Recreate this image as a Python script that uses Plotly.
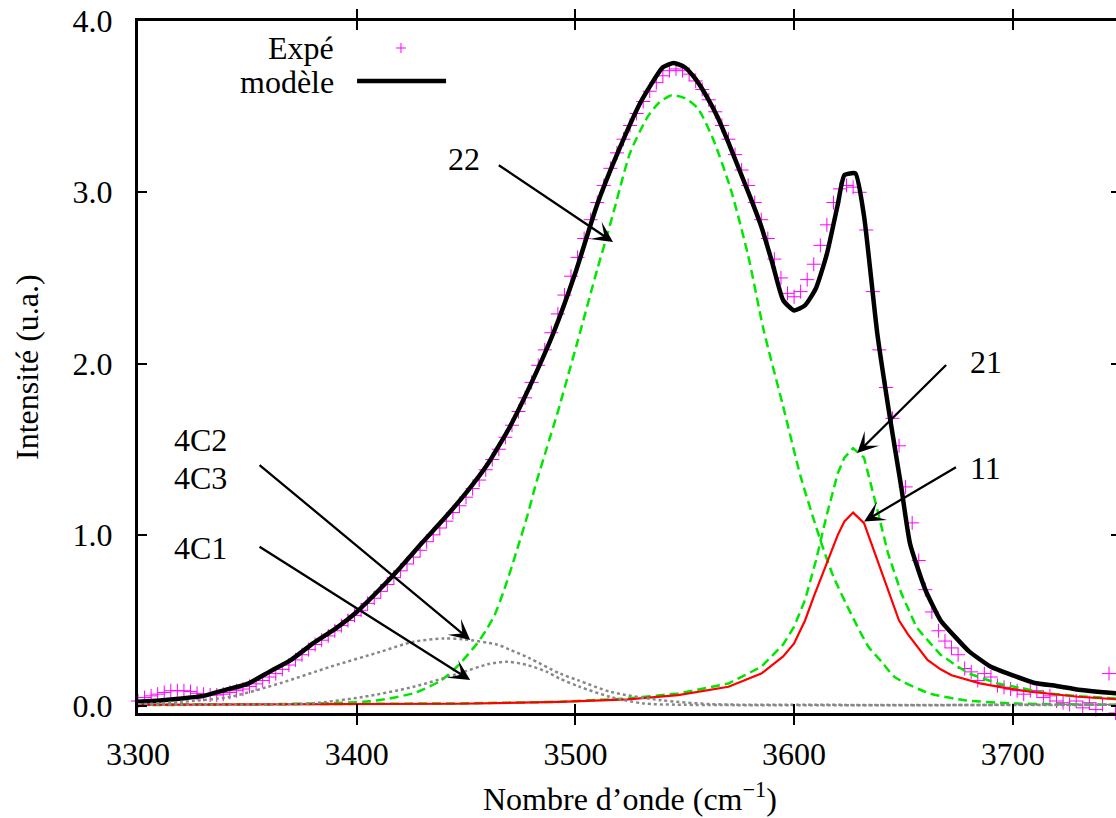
import plotly.graph_objects as go

# ---------------- data ----------------
exp_x = list(range(3300, 3751, 3))
exp_y = [0.03, 0.05, 0.06, 0.07, 0.08, 0.09, 0.09, 0.09, 0.085, 0.075,
         0.07, 0.065, 0.065, 0.07, 0.08, 0.09, 0.10, 0.115, 0.13, 0.15,
         0.17, 0.19, 0.215, 0.24, 0.27, 0.30, 0.33, 0.36, 0.385, 0.41,
         0.44, 0.47, 0.50, 0.53, 0.56, 0.60, 0.63, 0.67, 0.71, 0.75,
         0.79, 0.83, 0.87, 0.91, 0.96, 1.00, 1.04, 1.08, 1.13, 1.17,
         1.22, 1.27, 1.32, 1.38, 1.44, 1.50, 1.57, 1.64, 1.72, 1.80,
         1.89, 1.99, 2.08, 2.18, 2.29, 2.40, 2.51, 2.62, 2.73, 2.84,
         2.94, 3.04, 3.14, 3.23, 3.31, 3.39, 3.46, 3.53, 3.59, 3.64,
         3.68, 3.71, 3.72, 3.71, 3.69, 3.65, 3.60, 3.54, 3.47, 3.39,
         3.31, 3.22, 3.13, 3.04, 2.94, 2.84, 2.73, 2.61, 2.50, 2.41,
         2.39, 2.42, 2.49, 2.58, 2.69, 2.81, 2.94, 3.02, 3.04, 3.03,
         3.00, 2.78, 2.42, 2.08, 1.86, 1.68, 1.52, 1.28, 1.07, 0.85,
         0.68, 0.55, 0.44, 0.38, 0.34, 0.30, 0.22, 0.20, 0.15, 0.19,
         0.17, 0.12, 0.11, 0.10, 0.09, 0.07, 0.09, 0.09, 0.05, 0.06,
         0.03, 0.02, 0.01, 0.03, -0.01, 0.02, -0.02, 0.01, 0.19, -0.04,
         0.09]

model_x = [3300, 3310, 3320, 3330, 3340, 3350, 3360, 3370, 3380, 3390,
           3400, 3410, 3420, 3430, 3440, 3450, 3460, 3470, 3480, 3490,
           3500, 3510, 3520, 3530, 3540,
           3545, 3550, 3555, 3560, 3565, 3570, 3575, 3580, 3585, 3590,
           3595, 3600, 3605, 3610, 3615, 3620,
           3623, 3628, 3632, 3638, 3644, 3649, 3653, 3660, 3667, 3675, 3680,
           3690, 3700, 3710, 3720, 3730, 3740, 3750]
model_y = [0.025, 0.033, 0.045, 0.06, 0.095, 0.13, 0.20, 0.27, 0.366, 0.45,
           0.55, 0.675, 0.81, 0.955, 1.095, 1.245, 1.415, 1.63, 1.89, 2.18,
           2.53, 2.93, 3.25, 3.53, 3.73,
           3.755, 3.73, 3.66, 3.56, 3.44, 3.29, 3.13, 2.97, 2.80, 2.59,
           2.37, 2.31, 2.34, 2.44, 2.64, 2.93,
           3.10, 3.11, 2.86, 2.18, 1.67, 1.28, 0.95, 0.68, 0.50, 0.386, 0.32,
           0.23, 0.18, 0.135, 0.118, 0.096, 0.083, 0.072]

g22_x = [3300, 3350, 3380, 3403, 3415, 3426, 3430, 3438, 3442, 3447,
         3455, 3459, 3463, 3468, 3473, 3478, 3482, 3487, 3492, 3501,
         3510, 3515, 3518, 3525, 3533, 3538, 3544, 3550, 3556, 3563,
         3571, 3579, 3586, 3595, 3603, 3612, 3618, 3626, 3634, 3640,
         3646, 3662, 3678, 3700, 3750]
g22_y = [0.006, 0.01, 0.015, 0.025, 0.045, 0.075, 0.095, 0.145, 0.185, 0.245,
         0.365, 0.44, 0.53, 0.70, 0.90, 1.11, 1.30, 1.51, 1.72, 2.13,
         2.55, 2.77, 2.91, 3.23, 3.44, 3.52, 3.567, 3.55, 3.49, 3.31,
         3.02, 2.63, 2.20, 1.75, 1.34, 0.97, 0.756, 0.54, 0.347, 0.26,
         0.17, 0.074, 0.035, 0.016, 0.008]

g21_x = [3300, 3350, 3400, 3447, 3493, 3524, 3547, 3570, 3585, 3595,
         3600, 3605, 3610, 3615, 3620, 3623, 3627, 3632, 3638, 3643,
         3649, 3656, 3660, 3667, 3675, 3680, 3693, 3705, 3716, 3730, 3750]
g21_y = [0.008, 0.01, 0.013, 0.016, 0.025, 0.045, 0.074, 0.132, 0.23, 0.36,
         0.464, 0.62, 0.85, 1.12, 1.36, 1.45, 1.506, 1.45, 1.15, 0.89,
         0.66, 0.46, 0.40, 0.30, 0.23, 0.19, 0.133, 0.10, 0.074, 0.058, 0.043]

r11_x = [3300, 3350, 3400, 3447, 3493, 3524, 3547, 3570, 3585, 3595,
         3600, 3605, 3609, 3615, 3620, 3623, 3627, 3632, 3638, 3643,
         3648, 3652, 3655, 3661, 3667, 3672, 3685, 3697, 3708, 3730, 3750]
r11_y = [0.008, 0.01, 0.012, 0.014, 0.025, 0.039, 0.064, 0.113, 0.19, 0.29,
         0.366, 0.50, 0.64, 0.84, 1.00, 1.078, 1.13, 1.068, 0.854, 0.67,
         0.50, 0.42, 0.37, 0.27, 0.215, 0.18, 0.133, 0.105, 0.084, 0.055, 0.038]

c2_x = [3300, 3320, 3342, 3365, 3388, 3411, 3426, 3440, 3449, 3464,
        3470, 3479, 3493, 3501, 3516, 3539, 3562, 3600, 3750]
c2_y = [0.01, 0.025, 0.054, 0.134, 0.23, 0.318, 0.376, 0.395, 0.39, 0.36,
        0.33, 0.28, 0.19, 0.152, 0.084, 0.035, 0.012, 0.008, 0.008]

c1_x = [3300, 3360, 3380, 3403, 3426, 3449, 3460, 3469, 3478, 3487,
        3493, 3502, 3516, 3531, 3550, 3750]
c1_y = [0.008, 0.01, 0.017, 0.054, 0.113, 0.20, 0.245, 0.259, 0.24, 0.20,
        0.16, 0.113, 0.054, 0.016, 0.008, 0.008]

x_ticks = [3300, 3400, 3500, 3600, 3700]
x_tick_text = ["3300", "3400", "3500", "3600", "3700"]
y_ticks = [0, 1, 2, 3, 4]
y_tick_text = ["0.0", "1.0", "2.0", "3.0", "4.0"]

label_text = ["22", "21", "11", "4C2", "4C3", "4C1"]
label_x = [3449.0, 3687.6, 3687.6, 3328.8, 3328.8, 3328.8]
label_y = [3.193, 2.01, 1.39, 1.556, 1.333, 0.924]

arrow_tail_x = [3464.3, 3670.2, 3674.7, 3354.9, 3354.9]
arrow_tail_y = [3.164, 2.00, 1.40, 1.415, 0.936]
arrow_head_x = [3517.2, 3628.9, 3632.0, 3451.9, 3451.9]
arrow_head_y = [2.71, 1.478, 1.078, 0.386, 0.152]

legend_names = ["Expé", "modèle"]

# ---------------- styling ----------------
FONT = "Liberation Serif, DejaVu Serif, Times New Roman, serif"
FS = 32
MAGENTA = "#ff00ff"
GREEN = "#00e600"
GRAY = "#888888"
RED = "#ff0000"

fig = go.Figure()

fig.add_trace(go.Scatter(x=exp_x, y=exp_y, mode="markers", cliponaxis=False,
                         marker=dict(symbol="cross-thin", size=10,
                                     line=dict(color=MAGENTA, width=1)),
                         showlegend=False, hoverinfo="skip"))
fig.add_trace(go.Scatter(x=model_x, y=model_y, mode="lines",
                         line=dict(color="black", width=4.5,
                                   shape="spline", smoothing=0.5),
                         showlegend=False, hoverinfo="skip"))
fig.add_trace(go.Scatter(x=g22_x, y=g22_y, mode="lines",
                         line=dict(color=GREEN, width=2.5, dash="9px,5px",
                                   shape="spline", smoothing=0.6),
                         showlegend=False, hoverinfo="skip"))
fig.add_trace(go.Scatter(x=g21_x, y=g21_y, mode="lines",
                         line=dict(color=GREEN, width=2.5, dash="9px,5px"),
                         showlegend=False, hoverinfo="skip"))
fig.add_trace(go.Scatter(x=r11_x, y=r11_y, mode="lines",
                         line=dict(color=RED, width=2.2),
                         showlegend=False, hoverinfo="skip"))
fig.add_trace(go.Scatter(x=c2_x, y=c2_y, mode="lines",
                         line=dict(color=GRAY, width=2.5, dash="3px,3px",
                                   shape="spline", smoothing=0.8),
                         showlegend=False, hoverinfo="skip"))
fig.add_trace(go.Scatter(x=c1_x, y=c1_y, mode="lines",
                         line=dict(color=GRAY, width=2.5, dash="3px,3px",
                                   shape="spline", smoothing=0.8),
                         showlegend=False, hoverinfo="skip"))
# empty trace to activate right-hand tick axis
fig.add_trace(go.Scatter(x=[None], y=[None], yaxis="y2", mode="lines",
                         showlegend=False, hoverinfo="skip"))

annotations = []
for t, x, y in zip(label_text, label_x, label_y):
    annotations.append(dict(x=x, y=y, xref="x", yref="y", text=t,
                            showarrow=False, xanchor="center", yanchor="middle",
                            font=dict(family=FONT, size=FS, color="black")))
for tx, ty, hx, hy in zip(arrow_tail_x, arrow_tail_y, arrow_head_x, arrow_head_y):
    annotations.append(dict(x=hx, y=hy, ax=tx, ay=ty, xref="x", yref="y",
                            axref="x", ayref="y", text="", showarrow=True,
                            arrowhead=3, arrowsize=1.5, arrowwidth=2.3,
                            arrowcolor="black", standoff=0, startstandoff=0))
# axis titles
annotations.append(dict(x=0.5026, y=-0.121, xref="paper", yref="paper",
                        text="Nombre d’onde (cm<sup>−1</sup>)", showarrow=False,
                        xanchor="center", yanchor="middle",
                        font=dict(family=FONT, size=FS, color="black")))
annotations.append(dict(x=-0.1135, y=0.5, xref="paper", yref="paper",
                        text="Intensité (u.a.)", textangle=-90, showarrow=False,
                        xanchor="center", yanchor="middle",
                        font=dict(family=FONT, size=FS, color="black")))
# legend text (right aligned, samples to the right)
for name, yp in zip(legend_names, [0.961, 0.912]):
    annotations.append(dict(x=0.2025, y=yp, xref="paper", yref="paper",
                            text=name, showarrow=False, xanchor="right",
                            yanchor="middle",
                            font=dict(family=FONT, size=FS, color="black")))

shapes = [
    # legend line sample
    dict(type="line", xref="paper", yref="paper", x0=0.224, x1=0.315,
         y0=0.9133, y1=0.9133, line=dict(color="black", width=4.5)),
    # legend cross sample
    dict(type="line", xref="paper", yref="paper", x0=0.2638, x1=0.2740,
         y0=0.961, y1=0.961, line=dict(color=MAGENTA, width=1)),
    dict(type="line", xref="paper", yref="paper", x0=0.2689, x1=0.2689,
         y0=0.9537, y1=0.9683, line=dict(color=MAGENTA, width=1)),
]

axis_common = dict(showgrid=False, zeroline=False, ticks="inside", ticklen=9,
                   tickwidth=2, tickcolor="black",
                   tickfont=dict(family=FONT, size=FS, color="black"))

fig.update_layout(
    width=1116, height=818,
    margin=dict(l=138, r=0, t=21, b=105, pad=0),
    paper_bgcolor="white", plot_bgcolor="white",
    showlegend=False,
    font=dict(family=FONT, size=FS, color="black"),
    xaxis=dict(range=[3300, 3747.2], tickvals=x_ticks, ticktext=x_tick_text,
               showline=True, linewidth=3, linecolor="black", mirror="allticks",
               ticklabelstandoff=11, **axis_common),
    yaxis=dict(range=[-0.04, 4], tickvals=y_ticks, ticktext=y_tick_text,
               showline=True, linewidth=3, linecolor="black", mirror=False,
               ticklabelstandoff=16, **axis_common),
    yaxis2=dict(range=[-0.04, 4], tickvals=y_ticks, overlaying="y", side="right",
                anchor="x", showline=False, showgrid=False, zeroline=False,
                ticks="inside", ticklen=5, tickwidth=2, tickcolor="black",
                showticklabels=False),
    annotations=annotations,
    shapes=shapes,
)

fig.write_html("out.html")
